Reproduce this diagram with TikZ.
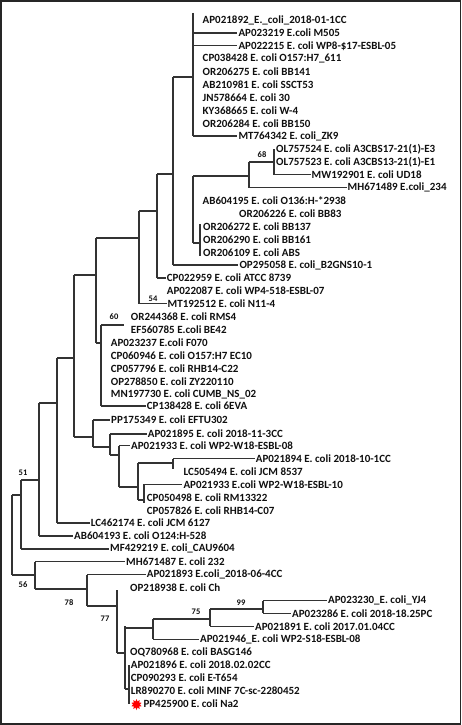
\documentclass[tikz,border=0pt]{standalone}
\usepackage{fontspec}
\setmainfont{Carlito}
\usetikzlibrary{shapes.geometric}
\definecolor{ln}{HTML}{333333}
\definecolor{tx}{HTML}{101010}
\tikzset{
  br/.style={draw=ln, line width=1.25pt},
  leaf/.style={anchor=west, inner sep=1pt, font=\fontsize{11}{12}\selectfont\bfseries, text=tx},
  bs/.style={font=\fontsize{8.5}{9}\selectfont\bfseries, inner sep=0pt, text=tx},
}
\begin{document}
\begin{tikzpicture}[x=1pt,y=-1pt]
\useasboundingbox (0,0) rectangle (462,725);
\fill[white] (0,0) rectangle (462,725);
\draw[line width=1.8pt, draw=black!85] (0.9,0.9) rectangle (460.5,723.8);

% leaves
\node[leaf] (L1) at (201.5,20.0) {AP021892\_E.\_coli\_2018-01-1CC};
\node[leaf] (L2) at (237.3,32.9) {AP023219 E.coli M505};
\node[leaf] (L3) at (237.3,45.8) {AP022215 E. coli WP8-\$17-ESBL-05};
\node[leaf] (L4) at (201.5,58.7) {CP038428 E. coli O157:H7\_611};
\node[leaf] (L5) at (201.5,71.6) {OR206275 E. coli BB141};
\node[leaf] (L6) at (201.5,84.5) {AB210981 E. coli SSCT53};
\node[leaf] (L7) at (201.5,97.4) {JN578664 E. coli 30};
\node[leaf] (L8) at (201.5,110.3) {KY368665 E. coli W-4};
\node[leaf] (L9) at (201.5,123.2) {OR206284 E. coli BB150};
\node[leaf] (L10) at (237.3,136.1) {MT764342 E. coli\_ZK9};
\node[leaf] (L11) at (275,149.0) {OL757524 E. coli A3CBS17-21(1)-E3};
\node[leaf] (L12) at (275,161.9) {OL757523 E. coli A3CBS13-21(1)-E1};
\node[leaf] (L13) at (310.5,174.8) {MW192901 E. coli UD18};
\node[leaf] (L14) at (346.5,187.7) {MH671489 E.coli\_234};
\node[leaf] (L15) at (201.5,200.6) {AB604195 E. coli O136:H-*2938};
\node[leaf] (L16) at (238,213.5) {OR206226 E. coli BB83};
\node[leaf] (L17) at (202,226.4) {OR206272 E. coli BB137};
\node[leaf] (L18) at (202,239.3) {OR206290 E. coli BB161};
\node[leaf] (L19) at (202,252.2) {OR206109 E. coli ABS};
\node[leaf] (L20) at (238.3,265.1) {OP295058 E. coli\_B2GNS10-1};
\node[leaf] (L21) at (165.7,278.0) {CP022959 E. coli ATCC 8739};
\node[leaf] (L22) at (165.7,290.9) {AP022087 E. coli WP4-518-ESBL-07};
\node[leaf] (L23) at (166.5,303.8) {MT192512 E. coli N11-4};
\node[leaf] (L24) at (129.7,316.7) {OR244368 E. coli RMS4};
\node[leaf] (L25) at (129.7,329.6) {EF560785 E.coli BE42};
\node[leaf] (L26) at (109.7,342.5) {AP023237 E.coli F070};
\node[leaf] (L27) at (109.7,355.4) {CP060946 E. coli O157:H7 EC10};
\node[leaf] (L28) at (109.7,368.3) {CP057796 E. coli RHB14-C22};
\node[leaf] (L29) at (109.7,381.2) {OP278850 E. coli ZY220110};
\node[leaf] (L30) at (109.7,394.1) {MN197730 E. coli CUMB\_NS\_02};
\node[leaf] (L31) at (145.7,406.0) {CP138428 E. coli 6EVA};
\node[leaf] (L32) at (110,419.9) {PP175349 E. coli EFTU302};
\node[leaf] (L33) at (146.7,434.0) {AP021895 E. coli 2018-11-3CC};
\node[leaf] (L34) at (130,445.7) {AP021933 E. coli WP2-W18-ESBL-08};
\node[leaf] (L35) at (254.7,458.6) {AP021894 E. coli 2018-10-1CC};
\node[leaf] (L36) at (182.3,471.5) {LC505494 E. coli JCM 8537};
\node[leaf] (L37) at (182.3,484.4) {AP021933 E.coli WP2-W18-ESBL-10};
\node[leaf] (L38) at (145.7,497.3) {CP050498 E. coli RM13322};
\node[leaf] (L39) at (145.7,510.2) {CP057826 E. coli RHB14-C07};
\node[leaf] (L40) at (89.7,523.1) {LC462174 E. coli JCM 6127};
\node[leaf] (L41) at (73,536.0) {AB604193 E. coli O124:H-528};
\node[leaf] (L42) at (109,548.9) {MF429219 E. coli\_CAU9604};
\node[leaf] (L43) at (125,561.8) {MH671487 E. coli 232};
\node[leaf] (L44) at (145.7,574.7) {AP021893 E.coli\_2018-06-4CC};
\node[leaf] (L45) at (129,587.6) {OP218938 E. coli Ch};
\node[leaf] (L46) at (327,600.5) {AP023230\_E. coli\_YJ4};
\node[leaf] (L47) at (291,613.4) {AP023286 E. coli 2018-18.25PC};
\node[leaf] (L48) at (254,626.3) {AP021891 E. coli 2017.01.04CC};
\node[leaf] (L49) at (199,639.2) {AP021946\_E. coli WP2-S18-ESBL-08};
\node[leaf] (L50) at (129,652.1) {OQ780968 E. coli BASG146};
\node[leaf] (L51) at (129.7,665.0) {AP021896 E. coli 2018.02.02CC};
\node[leaf] (L52) at (129.7,677.9) {CP090293 E. coli E-T654};
\node[leaf] (L53) at (129.7,690.8) {LR890270 E. coli MINF 7C-sc-2280452};
\node[leaf] (L54) at (142.3,703.7) {PP425900 E. coli Na2};
\node[star, star points=10, star point ratio=1.7, fill=red, draw=none, minimum size=11pt, inner sep=0pt] (mark) at (136.5,704.5) {};

% internal nodes: top, bottom, attachment
\coordinate (At) at (193,13);    \coordinate (Ab) at (193,136.1); \coordinate (Aa) at (193,77);
\coordinate (Bt) at (173,77);    \coordinate (Bb) at (173,265.1); \coordinate (Ba) at (173,174);
\coordinate (Gt68) at (249,161.9); \coordinate (Gb68) at (249,187.7); \coordinate (Ga68) at (249,176);
\coordinate (N4t) at (274,149);  \coordinate (N4b) at (274,174.8); \coordinate (N4a) at (274,161.9);
\coordinate (CBt) at (193,176);  \coordinate (CBb) at (193,243);
\coordinate (S2t) at (200,224);  \coordinate (S2b) at (200,256);  \coordinate (S2a) at (200,243);
\coordinate (Ct) at (157,174);   \coordinate (Cb) at (157,278);   \coordinate (Ca) at (157,211);
\coordinate (Dt) at (139,211);   \coordinate (Db) at (139,303.8); \coordinate (Da) at (139,238);
\coordinate (Et) at (96,238);    \coordinate (Eb) at (96,343);    \coordinate (Ea) at (96,275);
\coordinate (Ft) at (101,325);   \coordinate (Fb) at (101,406);   \coordinate (Fa) at (101,343);
\coordinate (F60) at (124,325);
\coordinate (NNt) at (74,275);   \coordinate (NNb) at (74,437);   \coordinate (NNa) at (74,358);
\coordinate (Gt) at (93,419.9);  \coordinate (Gb) at (93,447);    \coordinate (Ga) at (93,437);
\coordinate (Ht) at (110,434);   \coordinate (Hb) at (110,455);   \coordinate (Ha) at (110,447);
\coordinate (It) at (119,445.7); \coordinate (Ib) at (119,487);   \coordinate (Ia) at (119,455);
\coordinate (Jt) at (138,463);   \coordinate (Jb) at (138,500);   \coordinate (Ja) at (138,487);
\coordinate (Kt) at (173,458.6); \coordinate (Kb) at (173,469);   \coordinate (Ka) at (173,463);
\coordinate (LLt) at (144,484.4); \coordinate (LLb) at (144,503); \coordinate (LLa) at (144,500);
\coordinate (Mt) at (57,358);    \coordinate (Mb) at (57,523.1);  \coordinate (Ma) at (57,403);
\coordinate (Ot) at (39,403);    \coordinate (Ob) at (39,536);    \coordinate (Oa) at (39,480);
\coordinate (Pt) at (21,480);    \coordinate (Pb) at (21,548.9);  \coordinate (Pa) at (21,495);
\coordinate (Rt) at (12,495);    \coordinate (Rb) at (12,575);
\coordinate (Qt) at (35,561.8);  \coordinate (Qb) at (35,589);    \coordinate (Qa) at (35,575);
\coordinate (RRt) at (87,574.7); \coordinate (RRb) at (87,606);   \coordinate (RRa) at (87,589);
\coordinate (SSt) at (117,590);  \coordinate (SSb) at (117,653);  \coordinate (SSa) at (117,606);
\coordinate (Tt) at (125,626);   \coordinate (Tb) at (125,689);   \coordinate (Ta) at (125,653);
\coordinate (Ut) at (129,665);   \coordinate (Ub) at (129,703.7); \coordinate (Ua) at (129,689);
\coordinate (Vt) at (153,619);   \coordinate (Vb) at (153,639.2); \coordinate (Va) at (153,628);
\coordinate (Wt) at (210,609);   \coordinate (Wb) at (210,626.3); \coordinate (Wa) at (210,619);
\coordinate (Xt) at (263,600.5); \coordinate (Xb) at (263,613.4); \coordinate (Xa) at (263,609);

% vertical lines
\draw[br] (At) -- (Ab);   \draw[br] (Bt) -- (Bb);   \draw[br] (Gt68) -- (Gb68);
\draw[br] (N4t) -- (N4b); \draw[br] (CBt) -- (CBb); \draw[br] (S2t) -- (S2b);
\draw[br] (Ct) -- (Cb);   \draw[br] (Dt) -- (Db);   \draw[br] (Et) -- (Eb);
\draw[br] (Ft) -- (Fb);   \draw[br] (NNt) -- (NNb); \draw[br] (Gt) -- (Gb);
\draw[br] (Ht) -- (Hb);   \draw[br] (It) -- (Ib);   \draw[br] (Jt) -- (Jb);
\draw[br] (Kt) -- (Kb);   \draw[br] (LLt) -- (LLb); \draw[br] (Mt) -- (Mb);
\draw[br] (Ot) -- (Ob);   \draw[br] (Pt) -- (Pb);   \draw[br] (Rt) -- (Rb);
\draw[br] (Qt) -- (Qb);   \draw[br] (RRt) -- (RRb); \draw[br] (SSt) -- (SSb);
\draw[br] (Tt) -- (Tb);   \draw[br] (Ut) -- (Ub);   \draw[br] (Vt) -- (Vb);
\draw[br] (Wt) -- (Wb);   \draw[br] (Xt) -- (Xb);

% internal connectors
\draw[br] (Bt |- Aa) -- (Aa);
\draw[br] (Ct |- Ba) -- (Ba);
\draw[br] (CBt |- Ga68) -- (Ga68);
\draw[br] (Gt68 |- N4a) -- (N4a);
\draw[br] (CBt |- S2a) -- (S2a);
\draw[br] (Dt |- Ca) -- (Ca);
\draw[br] (Et |- Da) -- (Da);
\draw[br] (NNt |- Ea) -- (Ea);
\draw[br] (Et |- Fa) -- (Fa);
\draw[br] (Ft |- F60) -- (F60);
\draw[br] (Mt |- NNa) -- (NNa);
\draw[br] (NNt |- Ga) -- (Ga);
\draw[br] (Gt |- Ha) -- (Ha);
\draw[br] (Ht |- Ia) -- (Ia);
\draw[br] (It |- Ja) -- (Ja);
\draw[br] (Jt |- Ka) -- (Ka);
\draw[br] (Jt |- LLa) -- (LLa);
\draw[br] (Ot |- Ma) -- (Ma);
\draw[br] (Pt |- Oa) -- (Oa);
\draw[br] (Rt |- Pa) -- (Pa);
\draw[br] (Rt |- Qa) -- (Qa);
\draw[br] (Qt |- RRa) -- (RRa);
\draw[br] (RRt |- SSa) -- (SSa);
\draw[br] (SSt |- Ta) -- (Ta);
\draw[br] (Tt |- Ua) -- (Ua);
\draw[br] (Tt |- Va) -- (Va);
\draw[br] (Vt |- Wa) -- (Wa);
\draw[br] (Wt |- Xa) -- (Xa);

% leaf branches
\draw[br] (At |- L2.west) -- (L2.west);
\draw[br] (At |- L3.west) -- (L3.west);
\draw[br] (At |- L10.west) -- (L10.west);
\draw[br] (N4t |- L13.west) -- (L13.west);
\draw[br] (Gt68 |- L14.west) -- (L14.west);
\draw[br] (Bt |- L20.west) -- (L20.west);
\draw[br] (Ct |- L21.west) -- (L21.west);
\draw[br] (Dt |- L23.west) -- (L23.west);
\draw[br] (Ft |- L31.west) -- (L31.west);
\draw[br] (Gt |- L32.west) -- (L32.west);
\draw[br] (Ht |- L33.west) -- (L33.west);
\draw[br] (It |- L34.west) -- (L34.west);
\draw[br] (Kt |- L35.west) -- (L35.west);
\draw[br] (LLt |- L37.west) -- (L37.west);
\draw[br] (Mt |- L40.west) -- (L40.west);
\draw[br] (Ot |- L41.west) -- (L41.west);
\draw[br] (Pt |- L42.west) -- (L42.west);
\draw[br] (Qt |- L43.west) -- (L43.west);
\draw[br] (RRt |- L44.west) -- (L44.west);
\draw[br] (Xt |- L46.west) -- (L46.west);
\draw[br] (Xt |- L47.west) -- (L47.west);
\draw[br] (Wt |- L48.west) -- (L48.west);
\draw[br] (Vt |- L49.west) -- (L49.west);

% bootstrap values
\node[bs] (b68) at (262,155) {68};
\node[bs] (b54) at (153,299) {54};
\node[bs] (b60) at (114,317) {60};
\node[bs] (b51) at (23,473) {51};
\node[bs] (b56) at (23,585) {56};
\node[bs] (b78) at (69,603) {78};
\node[bs] (b77) at (105,619) {77};
\node[bs] (b75) at (196,612) {75};
\node[bs] (b99) at (241,603) {99};
\end{tikzpicture}
\end{document}
